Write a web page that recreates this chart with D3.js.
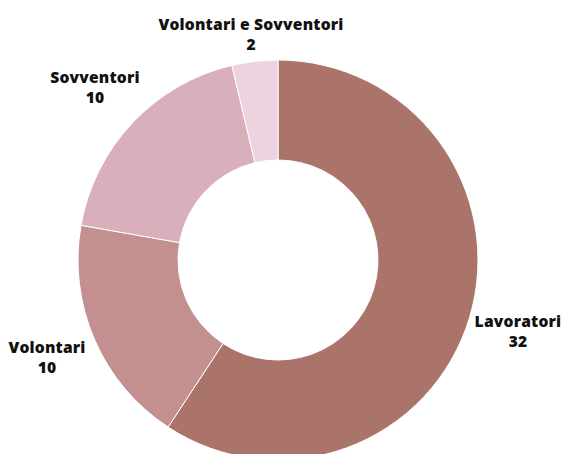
<!DOCTYPE html>
<html><head><meta charset="utf-8">
<script src="https://cdn.jsdelivr.net/npm/d3@7/dist/d3.min.js"></script>
<style>html,body{margin:0;padding:0;background:#fff;overflow:hidden}</style>
</head><body>
<svg id="c" width="563" height="454"></svg>
<script>
const categories = ["Lavoratori", "Volontari", "Sovventori", "Volontari e Sovventori"];
const values = [32, 10, 10, 2];
const colors = ["#ab746b", "#c4908f", "#d9afbb", "#ecd3df"];

const svg = d3.select("#c");
const cx = 278, cy = 260, R = 200, r = 100;
const g = svg.append("g").attr("transform", `translate(${cx},${cy})`);
const pie = d3.pie().sort(null).value(d => d.v);
const arcs = pie(categories.map((c, i) => ({c, v: values[i], col: colors[i]})));
const arc = d3.arc().innerRadius(r).outerRadius(R);
g.selectAll("path").data(arcs).join("path")
  .attr("d", arc).attr("fill", d => d.data.col)
  .attr("stroke", "#fff").attr("stroke-width", 1);

// label positions (relative to chart center)
const labelPos = [[240, 67], [-231, 93], [-183, -177], [-27, -230]];
const lg = g.selectAll("g.lab").data(arcs).join("g").attr("class", "lab")
  .attr("transform", (d, i) => `translate(${labelPos[i][0]},${labelPos[i][1]})`);
lg.append("text").attr("text-anchor", "middle").attr("y", 0)
  .style("font-family", "'Open Sans'").style("font-weight", 800).style("font-size", "15.6px")
  .style("letter-spacing", "0.2px")
  .attr("fill", "#111").text(d => d.data.c);
lg.append("text").attr("text-anchor", "middle").attr("y", 20)
  .style("font-family", "'Open Sans'").style("font-weight", 800).style("font-size", "15.6px")
  .attr("fill", "#111").text(d => d.data.v);
</script>
</body></html>
